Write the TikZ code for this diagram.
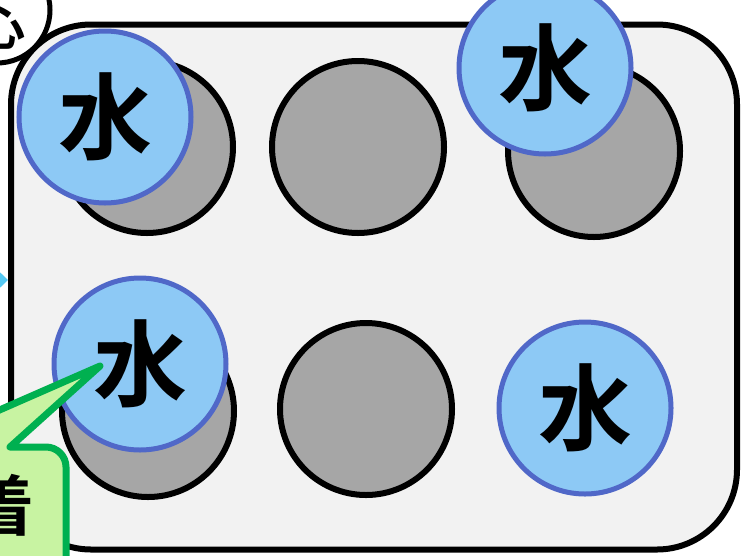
\documentclass[tikz,border=0pt]{standalone}
\usepackage{fontspec}
\newfontfamily\cjk{Noto Sans CJK JP}[BoldFont={Noto Sans CJK JP Bold}]
\usetikzlibrary{arrows.meta}
\definecolor{trayfill}{HTML}{F2F2F2}
\definecolor{holefill}{HTML}{A6A6A6}
\definecolor{waterfill}{HTML}{8DC9F5}
\definecolor{waterline}{HTML}{5068C8}
\definecolor{calloutfill}{HTML}{C8F3A2}
\definecolor{calloutline}{HTML}{00B050}
\definecolor{arrowcol}{HTML}{55C8F2}
\tikzset{
  tray/.style={draw=black, line width=6pt, fill=trayfill, rounded corners=80pt, inner sep=0pt, minimum width=726pt, minimum height=525pt},
  hole/.style={circle, draw=black, line width=6pt, fill=holefill, inner sep=0pt, minimum size=172pt},
  water/.style={circle, draw=waterline, line width=5pt, fill=waterfill, inner sep=0pt, minimum size=172pt, font=\cjk\bfseries\fontsize{94}{94}\selectfont},
  calloutbox/.style={draw=calloutline, line width=7pt, fill=calloutfill, line join=round},
  bigtext/.style={font=\cjk\bfseries\fontsize{66}{66}\selectfont, inner sep=0pt},
  headcircle/.style={circle, draw=black, line width=5pt, fill=white, inner sep=0pt, minimum size=106pt},
  headtext/.style={font=\cjk\bfseries\fontsize{48}{48}\selectfont, inner sep=0pt},
  feed/.style={draw=arrowcol, line width=6pt, -{Triangle[length=16pt,width=30pt]}}
}
\begin{document}
\begin{tikzpicture}[x=1pt,y=-1pt]
\useasboundingbox (0,0) rectangle (743,555);
\clip (0,0) rectangle (743,555);
\node[tray] (tray) at (374,287) {};
% wells
\node[hole] (g1) at (147,147) {};
\node[hole] (g2) at (358,147) {};
\node[hole] (g3) at (594,151) {};
\node[hole] (g4) at (148,411) {};
\node[hole] (g5) at (366,409) {};
% water drops
\node[water] (w1) at (105,117) {\raisebox{5pt}{水}};
\node[water] (w2) at (545,68) {\raisebox{5pt}{水}};
\node[water] (w3) at (140,364) {\raisebox{5pt}{水}};
\node[water] (w4) at (585,408) {\raisebox{5pt}{水}};
% callout
\coordinate (tip) at (100,366);
\draw[calloutbox] (-200,700) -- (-200,447) -- (-85,447) -- (tip) -- (10,447) -- (46,447)
  .. controls (57,447) and (66,456) .. (66,467) -- (66,700) -- cycle;
\node[bigtext] (lbl) at (2,505) {着};
% top-left circle
\node[headcircle] (head) at (-3,10) {};
\node[headtext] (headt) at (2,27) {心};
% incoming arrow
\coordinate (src) at (-60,280);
\draw[feed] (src) -- (src -| tray.west);
\end{tikzpicture}
\end{document}
